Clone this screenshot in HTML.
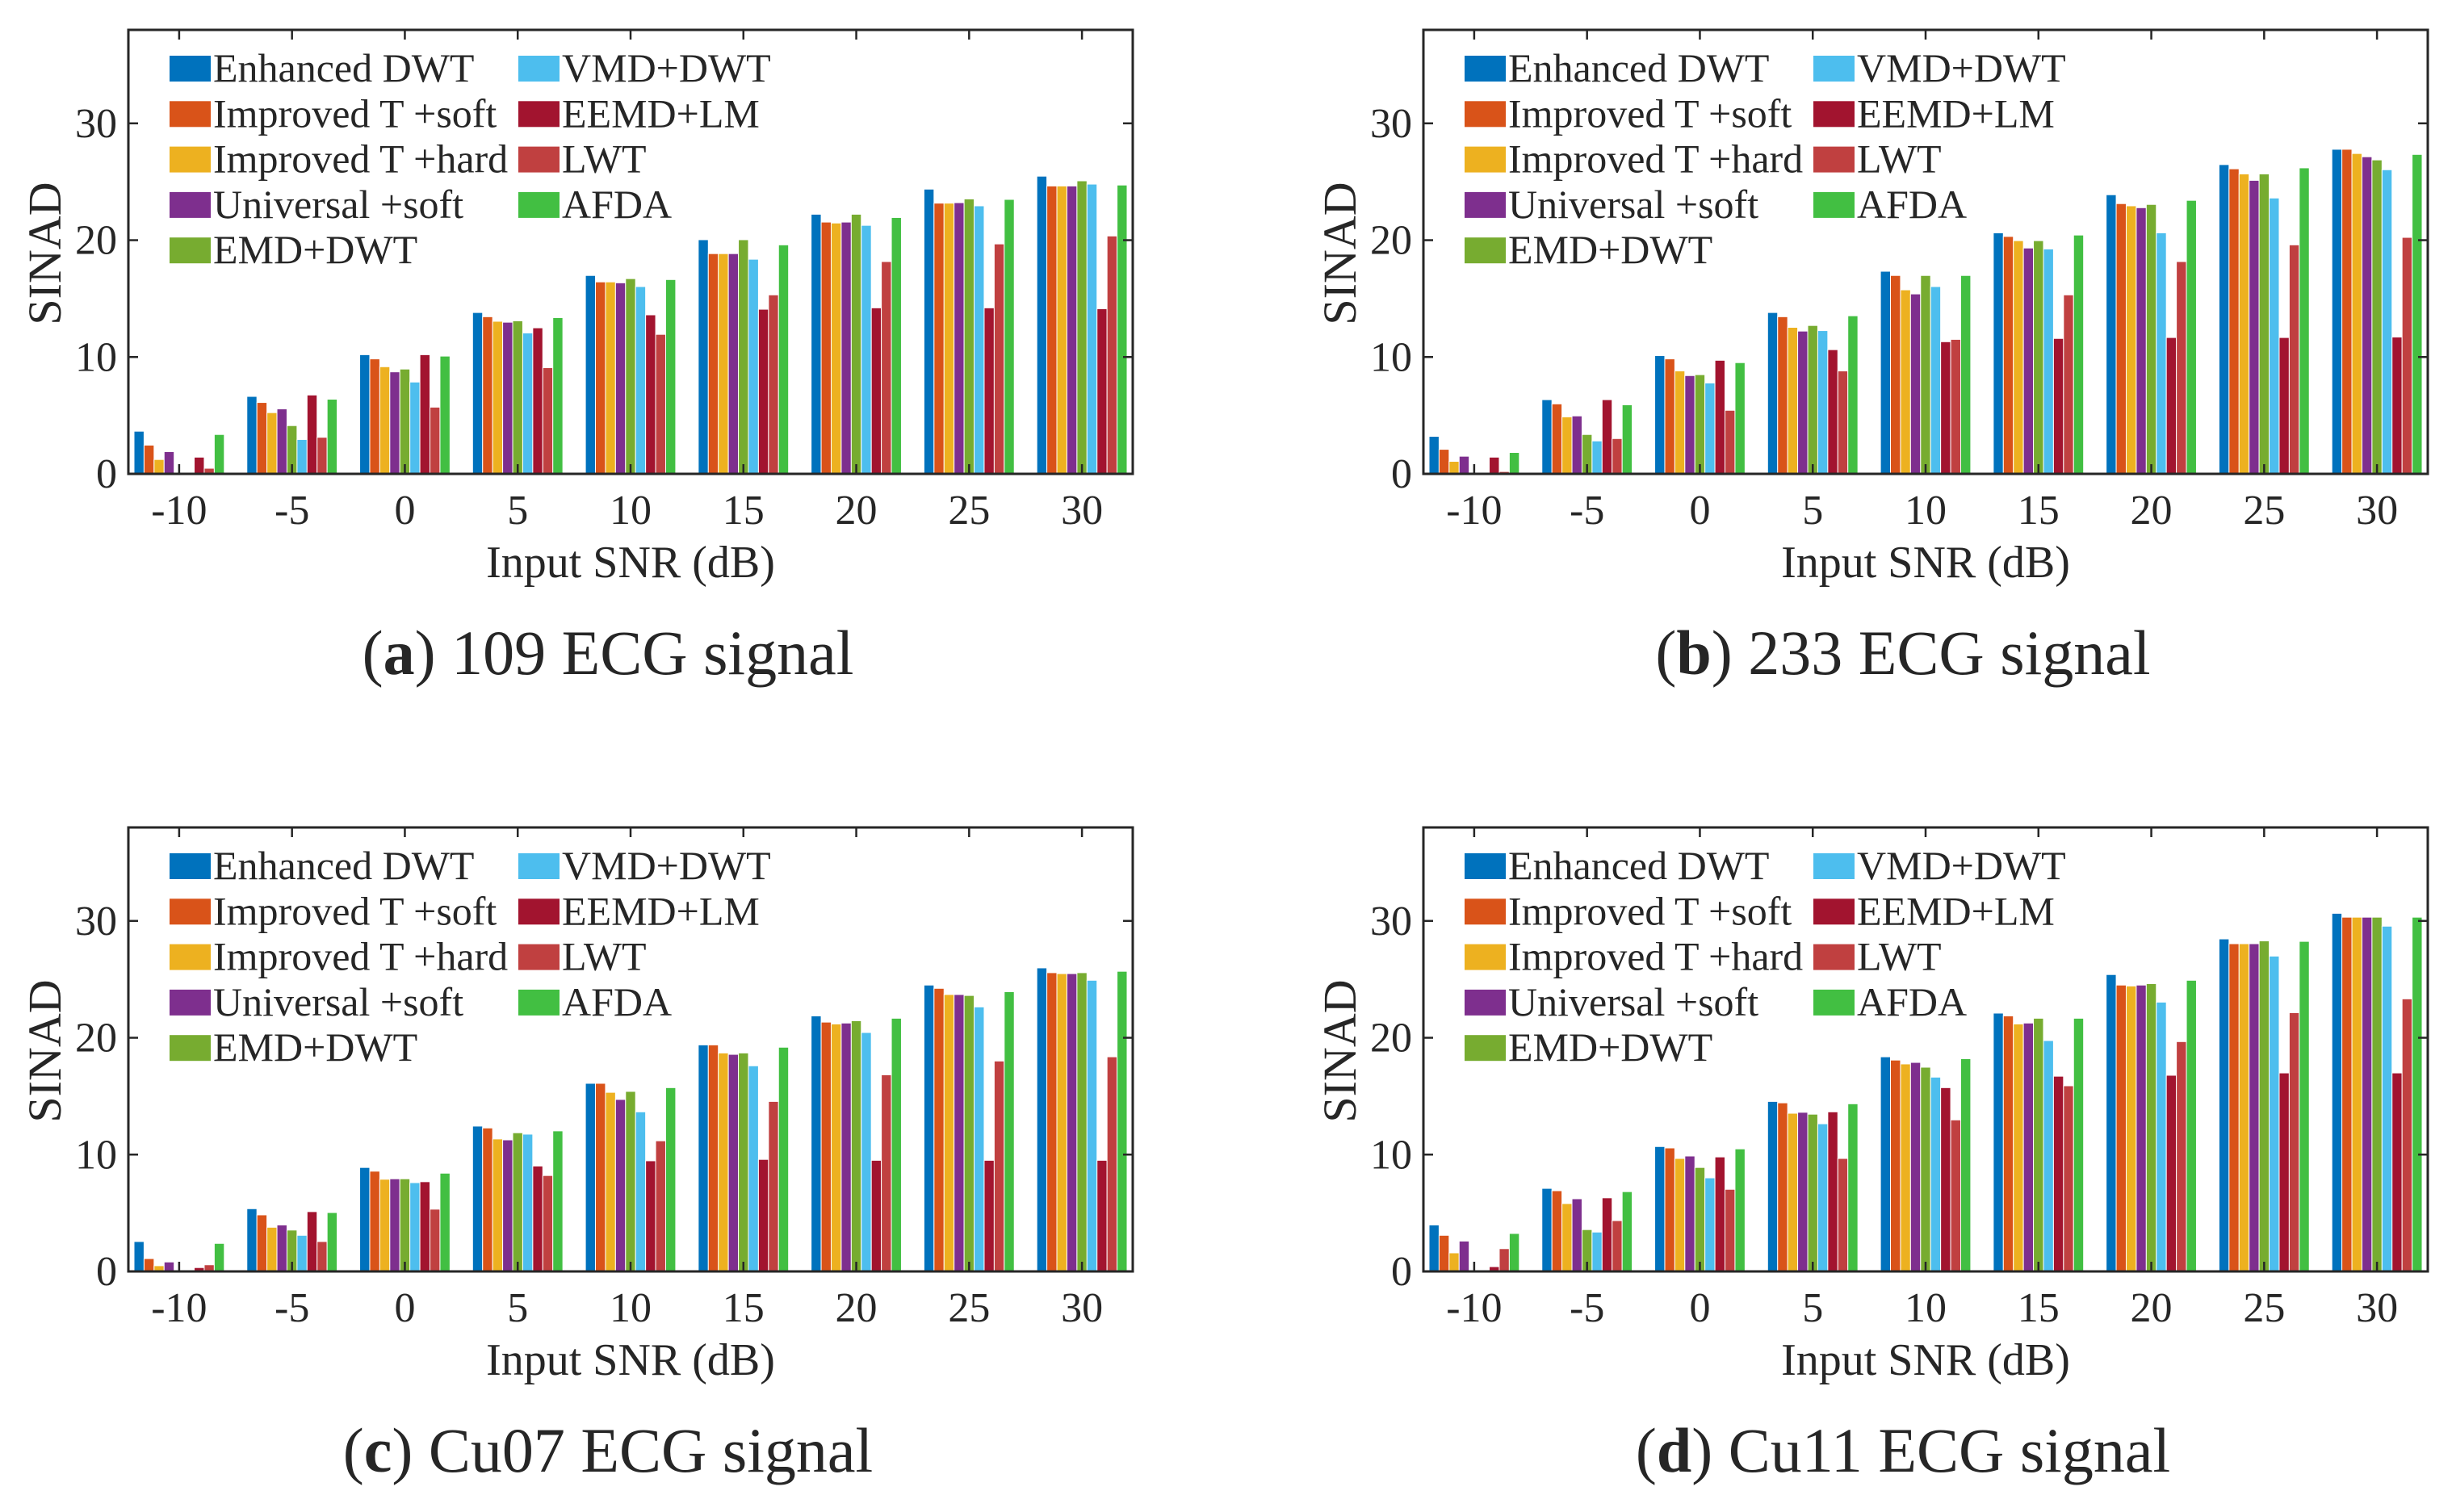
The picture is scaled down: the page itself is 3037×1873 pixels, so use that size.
<!DOCTYPE html>
<html><head><meta charset="utf-8"><style>
html,body{margin:0;padding:0;background:#fff}
svg{display:block}
text{font-family:"Liberation Serif",serif;fill:#262626}
</style></head><body>
<svg id="fig" width="3037" height="1873" viewBox="0 0 3037 1873" xmlns="http://www.w3.org/2000/svg"></svg>
<script>
const categories = [-10, -5, 0, 5, 10, 15, 20, 25, 30];
const yTicks = [0, 10, 20, 30];
const seriesNames = ["Enhanced DWT","Improved T +soft","Improved T +hard","Universal +soft","EMD+DWT","VMD+DWT","EEMD+LM","LWT","AFDA"];
const seriesColors = ["#0072BD","#D95319","#EDB120","#7E2F8E","#77AC30","#4DBEEE","#A2142F","#C04040","#42BF42"];

// Panel (a) 109
const a_enhanced = [3.65,6.63,10.2,13.81,16.98,20.04,22.22,24.37,25.48];
const a_tsoft    = [2.46,6.11,9.84,13.45,16.43,18.85,21.55,23.17,24.64];
const a_thard    = [1.23,5.24,9.17,13.06,16.43,18.85,21.47,23.17,24.64];
const a_usoft    = [1.9,5.56,8.73,12.98,16.35,18.85,21.55,23.21,24.64];
const a_emd      = [0,4.13,8.97,13.1,16.71,20.04,22.22,23.53,25.08];
const a_vmd      = [0,2.94,7.86,12.06,16.03,18.37,21.27,22.94,24.8];
const a_eemd     = [1.43,6.75,10.2,12.5,13.61,14.09,14.21,14.21,14.13];
const a_lwt      = [0.48,3.13,5.71,9.09,11.94,15.32,18.17,19.68,20.36];
const a_afda     = [3.37,6.39,10.08,13.37,16.63,19.6,21.94,23.49,24.72];
// Panel (b) 233
const b_enhanced = [3.21,6.35,10.12,13.81,17.34,20.63,23.89,26.47,27.78];
const b_tsoft    = [2.1,5.99,9.84,13.45,16.98,20.32,23.13,26.11,27.78];
const b_thard    = [1.07,4.88,8.81,12.54,15.75,19.96,22.94,25.67,27.42];
const b_usoft    = [1.51,4.96,8.41,12.22,15.4,19.33,22.78,25.12,27.14];
const b_emd      = [0,3.37,8.49,12.7,16.98,19.96,23.06,25.67,26.87];
const b_vmd      = [0,2.82,7.78,12.26,16.03,19.25,20.63,23.61,26.03];
const b_eemd     = [1.43,6.35,9.72,10.63,11.31,11.59,11.67,11.67,11.71];
const b_lwt      = [0.2,3.02,5.44,8.81,11.51,15.32,18.17,19.6,20.24];
const b_afda     = [1.83,5.91,9.52,13.53,16.98,20.44,23.41,26.19,27.34];
// Panel (c) Cu07
const c_enhanced = [2.56,5.37,8.9,12.44,16.1,19.39,21.87,24.51,25.98];
const c_tsoft    = [1.1,4.84,8.58,12.28,16.1,19.39,21.34,24.23,25.57];
const c_thard    = [0.49,3.78,7.89,11.34,15.33,18.7,21.18,23.7,25.49];
const c_usoft    = [0.81,3.98,7.93,11.26,14.72,18.58,21.26,23.7,25.49];
const c_emd      = [0,3.54,7.93,11.87,15.41,18.7,21.46,23.62,25.57];
const c_vmd      = [0,3.09,7.6,11.75,13.66,17.6,20.45,22.64,24.92];
const c_eemd     = [0.33,5.12,7.68,9.02,9.47,9.59,9.51,9.51,9.51];
const c_lwt      = [0.57,2.56,5.33,8.21,11.18,14.55,16.83,18.01,18.37];
const c_afda     = [2.4,5.04,8.41,12.03,15.73,19.19,21.67,23.94,25.69];
// Panel (d) Cu11
const d_enhanced = [3.98,7.11,10.69,14.55,18.37,22.11,25.41,28.46,30.65];
const d_tsoft    = [3.09,6.91,10.57,14.43,18.09,21.87,24.51,28.05,30.32];
const d_thard    = [1.59,5.81,9.67,13.54,17.76,21.18,24.43,28.05,30.32];
const d_usoft    = [2.6,6.22,9.88,13.62,17.89,21.26,24.51,28.05,30.32];
const d_emd      = [0,3.58,8.9,13.46,17.48,21.67,24.63,28.29,30.32];
const d_vmd      = [0,3.37,8.01,12.64,16.63,19.76,23.05,26.99,29.55];
const d_eemd     = [0.41,6.3,9.8,13.66,15.73,16.71,16.79,16.99,16.99];
const d_lwt      = [1.95,4.35,7.03,9.67,12.97,15.89,19.67,22.15,23.33];
const d_afda     = [3.25,6.83,10.49,14.35,18.21,21.67,24.92,28.25,30.32];

const panels = [
  {id:"a", label:"a", rest:" 109 ECG signal", left:159, top:37, series:[a_enhanced,a_tsoft,a_thard,a_usoft,a_emd,a_vmd,a_eemd,a_lwt,a_afda]},
  {id:"b", label:"b", rest:" 233 ECG signal", left:1763, top:37, series:[b_enhanced,b_tsoft,b_thard,b_usoft,b_emd,b_vmd,b_eemd,b_lwt,b_afda]},
  {id:"c", label:"c", rest:" Cu07 ECG signal", left:159, top:1025, series:[c_enhanced,c_tsoft,c_thard,c_usoft,c_emd,c_vmd,c_eemd,c_lwt,c_afda]},
  {id:"d", label:"d", rest:" Cu11 ECG signal", left:1763, top:1025, series:[d_enhanced,d_tsoft,d_thard,d_usoft,d_emd,d_vmd,d_eemd,d_lwt,d_afda]}
];

const NS = "http://www.w3.org/2000/svg";
const svg = document.getElementById("fig");
function mk(tag, attrs, parent){
  const e = document.createElementNS(NS, tag);
  for (const k in attrs) e.setAttribute(k, attrs[k]);
  parent.appendChild(e);
  return e;
}
const W = 1244, H = 550, YMAX = 38, XMIN = 0.55, XMAX = 9.45;
const AX = "#262626";

panels.forEach(p => {
  const g = mk("g", {}, svg);
  
  
  const xs = i => p.left + (i + 1 - XMIN) / (XMAX - XMIN) * W;
  const ys = v => p.top + H - v / YMAX * H;
  const pitch = W / (XMAX - XMIN);
  const bw = pitch * 0.8 / 9;

  p.series.forEach((vals, s) => {
    vals.forEach((v, i) => {
      const cx = xs(i) + (s - 4) * bw;
      const r = mk("rect", {x: cx - bw/2, y: ys(v), width: bw, height: Math.max(0, ys(0) - ys(v)), fill: seriesColors[s], stroke:"#fff", "stroke-width":1}, g);
      
      
    });
  });

  const box = mk("rect", {x:p.left, y:p.top, width:W, height:H, fill:"none", stroke:AX, "stroke-width":3}, g);
  
  

  categories.forEach((c, i) => {
    const x = xs(i);
    mk("line", {x1:x, x2:x, y1:p.top+H, y2:p.top+H-12, stroke:AX, "stroke-width":2.5}, g);
    mk("line", {x1:x, x2:x, y1:p.top, y2:p.top+12, stroke:AX, "stroke-width":2.5}, g);
    const t = mk("text", {x:x, y:p.top+H+62, "text-anchor":"middle", "font-size":52}, g);
    t.textContent = c;
    
    
  });
  yTicks.forEach(v => {
    const y = ys(v);
    mk("line", {x1:p.left, x2:p.left+12, y1:y, y2:y, stroke:AX, "stroke-width":2.5}, g);
    mk("line", {x1:p.left+W, x2:p.left+W-12, y1:y, y2:y, stroke:AX, "stroke-width":2.5}, g);
    const t = mk("text", {x:p.left-14, y:y+17, "text-anchor":"end", "font-size":52}, g);
    t.textContent = v;
    
    
  });

  const xt = mk("text", {x:p.left+W/2, y:p.top+H+128, "text-anchor":"middle", "font-size":56}, g);
  xt.textContent = "Input SNR (dB)";
  
  
  const yt = mk("text", {x:0, y:0, "text-anchor":"middle", "font-size":58, transform:"translate(" + (p.left-84) + "," + (p.top+H/2+2) + ") rotate(-90)"}, g);
  yt.textContent = "SINAD";
  
  

  const cap = mk("text", {x:p.left+594, y:p.top+H+248, "text-anchor":"middle", "font-size":78}, g);
  
  
  const t1 = mk("tspan", {}, cap); t1.textContent = "(";
  const t2 = mk("tspan", {"font-weight":"bold"}, cap); t2.textContent = p.label;
  const t3 = mk("tspan", {}, cap); t3.textContent = ")" + p.rest;

  const lg = mk("g", {}, g);
  
  
  seriesNames.forEach((n, s) => {
    const col = s < 5 ? 0 : 1;
    const row = s < 5 ? s : s - 5;
    const sx = p.left + 51 + col * 432;
    const sy = p.top + 32 + row * 56.3;
    const sw = mk("rect", {x:sx, y:sy, width:51, height:32, fill:seriesColors[s]}, lg);
    
    
    const t = mk("text", {x:sx+54, y:sy+32, "font-size":50}, lg);
    t.textContent = n;
    
    
  });
});
</script>
</body></html>
